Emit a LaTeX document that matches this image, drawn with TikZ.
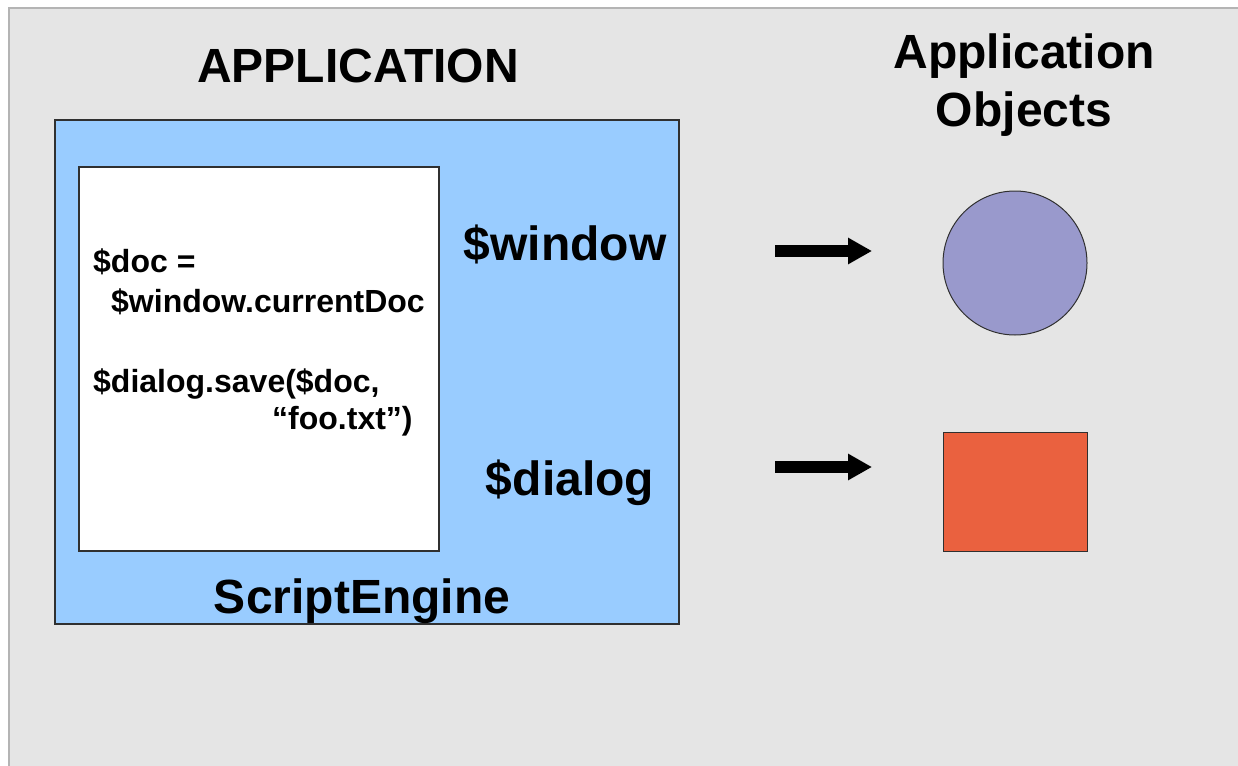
\documentclass[tikz,border=0pt]{standalone}
\usepackage{fontspec}
\setmainfont{Liberation Sans}
\usetikzlibrary{arrows.meta}

\definecolor{pagebg}{HTML}{E5E5E5}
\definecolor{pageedge}{HTML}{B4B4B4}
\definecolor{enginefill}{HTML}{99CCFF}
\definecolor{boxedge}{HTML}{303030}
\definecolor{objcircle}{HTML}{9999CC}
\definecolor{objsquare}{HTML}{EA613F}

\tikzset{
  heading/.style={font=\fontsize{48}{57}\selectfont\bfseries, anchor=base, inner sep=0pt},
  varlabel/.style={font=\fontsize{48}{57}\selectfont\bfseries, anchor=base, inner sep=0pt},
  codeline/.style={font=\fontsize{32}{38}\selectfont\bfseries, anchor=base west, inner sep=0pt},
  panel/.style={draw=boxedge, line width=1.2pt},
  bindarrow/.style={line width=12pt, -{Triangle[length=24pt,width=25pt]}},
  appobject/.style={draw=boxedge, line width=1pt, inner sep=0pt}
}

\begin{document}
\begin{tikzpicture}[x=1pt,y=-1pt]
  \useasboundingbox (0,0) rectangle (1238,765);

  % slide background
  \fill[pagebg, draw=pageedge, line width=1.5pt] (9,8) rectangle (1245,775);

  % headings
  \node[heading] (apphead) at (358,83) {APPLICATION};
  \node[heading] (objhead1) at (1024,69) {Application};
  \node[heading] (objhead2) at (1024,127) {Objects};

  % script engine and its script pane
  \node[panel, fill=enginefill, minimum width=624pt, minimum height=504pt, inner sep=0pt]
    (engine) at (367,372) {};
  \node[panel, fill=white, minimum width=360pt, minimum height=384pt, inner sep=0pt]
    (script) at (259,359) {};

  % script text
  \node[codeline] (l1) at (93,272) {\$doc =};
  \node[codeline] (l2) at (111,312) {\$window.currentDoc};
  \node[codeline] (l3) at (93,392) {\$dialog.save(\$doc,};
  \node[codeline] (l4) at (272,429) {“foo.txt”)};

  % bound variables
  \node[varlabel] (win) at (565,260) {\$window};
  \node[varlabel] (dlg) at (570,495) {\$dialog};
  \node[varlabel] (eng) at (362,613) {ScriptEngine};

  % application objects
  \node[appobject, circle, fill=objcircle, minimum size=144pt] (winobj) at (1015,263) {};
  \node[appobject, rectangle, fill=objsquare, minimum width=144pt, minimum height=119pt]
    (dlgobj) at (1015,491.5) {};

  % bindings
  \coordinate (w0) at (775,251);
  \coordinate (w1) at (872,251);
  \coordinate (d0) at (775,467);
  \coordinate (d1) at (872,467);
  \draw[bindarrow] (w0) -- (w1);
  \draw[bindarrow] (d0) -- (d1);
\end{tikzpicture}
\end{document}
